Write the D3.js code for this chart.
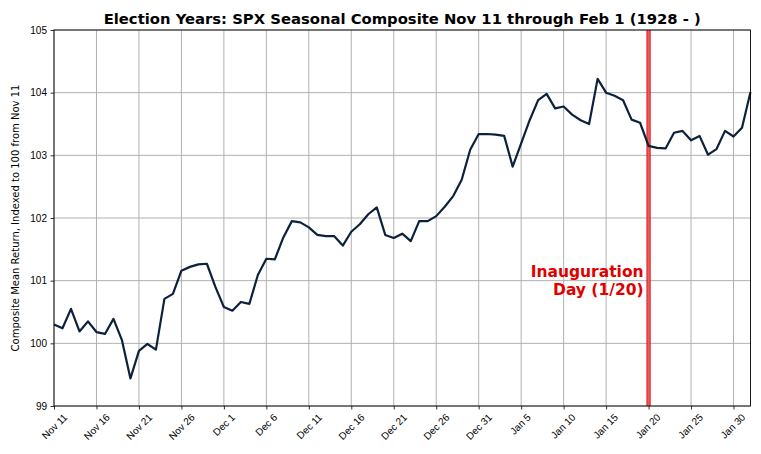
<!DOCTYPE html>
<html>
<head>
<meta charset="utf-8">
<script src="https://cdn.jsdelivr.net/npm/d3@7"></script>
<style>
  html, body { margin: 0; padding: 0; background: #fff; }
  svg { display: block; font-family: "DejaVu Sans", sans-serif; }
</style>
</head>
<body>
<svg id="chart" width="761" height="454"></svg>
<script>
// ---- data ----
const startDate = "2024-11-11";
const endDate = "2025-02-01";
const values = [
  100.30, 100.24, 100.55, 100.19, 100.35, 100.18, 100.15, 100.39, 100.05, 99.44,
  99.88, 99.99, 99.90, 100.71, 100.79, 101.16, 101.22, 101.26, 101.27, 100.90,
  100.58, 100.52, 100.66, 100.63, 101.09, 101.35, 101.34, 101.69, 101.95, 101.93,
  101.85, 101.73, 101.71, 101.71, 101.56, 101.78, 101.90, 102.06, 102.17, 101.73,
  101.68, 101.75, 101.63, 101.95, 101.95, 102.03, 102.18, 102.35, 102.61, 103.09,
  103.34, 103.34, 103.33, 103.31, 102.82, 103.19, 103.56, 103.88, 103.98, 103.75,
  103.78, 103.65, 103.56, 103.50, 104.22, 104.00, 103.95, 103.88, 103.57, 103.52,
  103.15, 103.12, 103.11, 103.36, 103.39, 103.24, 103.31, 103.01, 103.10, 103.39,
  103.30, 103.44, 104.01
];
const xTickLabels = ["Nov 11","Nov 16","Nov 21","Nov 26","Dec 1","Dec 6","Dec 11","Dec 16",
  "Dec 21","Dec 26","Dec 31","Jan 5","Jan 10","Jan 15","Jan 20","Jan 25","Jan 30"];
const yTicks = [99, 100, 101, 102, 103, 104, 105];
const eventDate = "2025-01-20";
const eventLabel = ["Inauguration", "Day (1/20)"];
const title = "Election Years: SPX Seasonal Composite Nov 11 through Feb 1 (1928 - )";
const yLabel = "Composite Mean Return, Indexed to 100 from Nov 11";

// ---- build ----
const parse = d3.timeParse("%Y-%m-%d");
const start = parse(startDate), end = parse(endDate);
const dates = d3.timeDay.range(start, d3.timeDay.offset(end, 1));
const series = values.map((v, i) => ({date: dates[i], value: v}));
const parseTick = s => {
  const yr = s.startsWith("Jan") ? 2025 : 2024;
  return d3.timeParse("%b %d %Y")(s + " " + yr);
};
const tickDates = xTickLabels.map(parseTick);

const W = 761, H = 454;
const margin = {left: 54, top: 30, right: 10.5, bottom: 48};
const svg = d3.select("#chart");

const x = d3.scaleTime().domain([start, end]).range([margin.left, W - margin.right]);
const y = d3.scaleLinear().domain([99, 105]).range([H - margin.bottom, margin.top]);

// grid
const grid = svg.append("g");
grid.selectAll(".vg").data(tickDates).join("line")
  .attr("x1", d => x(d)).attr("x2", d => x(d))
  .attr("y1", y(99)).attr("y2", y(105))
  .attr("stroke", "#b0b0b0").attr("stroke-width", 1);
grid.selectAll(".hg").data(yTicks).join("line")
  .attr("x1", margin.left).attr("x2", W - margin.right)
  .attr("y1", d => y(d)).attr("y2", d => y(d))
  .attr("stroke", "#b0b0b0").attr("stroke-width", 1);

// event line
const ex = x(parse(eventDate));
svg.append("line")
  .attr("x1", ex).attr("x2", ex)
  .attr("y1", y(105)).attr("y2", y(99))
  .attr("stroke", "#d91e1e").attr("stroke-width", 4.5).attr("stroke-opacity", 0.85);
svg.append("line")
  .attr("x1", ex).attr("x2", ex)
  .attr("y1", y(105)).attr("y2", y(99))
  .attr("stroke", "#f25a5a").attr("stroke-width", 1.5);

// data line
const line = d3.line().x(d => x(d.date)).y(d => y(d.value));
svg.append("path").datum(series)
  .attr("d", line)
  .attr("fill", "none")
  .attr("stroke", "#0d213d")
  .attr("stroke-width", 2.2)
  .attr("stroke-linejoin", "round");

// axes
const xAxis = d3.axisBottom(x).tickValues(tickDates)
  .tickFormat((d, i) => xTickLabels[i]).tickSizeOuter(0).tickSize(3.5).tickPadding(3.5);
const gx = svg.append("g").attr("transform", `translate(0,${y(99)})`).call(xAxis);
gx.select(".domain").remove();
gx.selectAll("line").attr("stroke", "#000").attr("stroke-width", 0.8);

// rotated tick labels: text end placed so that the rotated box is centred on the tick
const ctx = document.createElement("canvas").getContext("2d");
ctx.font = '10px "DejaVu Sans"';
gx.selectAll(".tick text")
  .attr("font-size", 10)
  .attr("fill", "#000")
  .attr("text-anchor", "end")
  .attr("y", 0)
  .attr("dy", "0.35em")
  .attr("transform", (d, i) => {
    const L = ctx.measureText(xTickLabels[i]).width;
    const dx = (L * Math.SQRT1_2) / 2 - 1.5;
    const dy = 7 + 2.5;
    return "translate(" + dx + "," + dy + ") rotate(-45)";
  });

const yAxis = d3.axisLeft(y).tickValues(yTicks).tickFormat(d3.format("d"))
  .tickSizeOuter(0).tickSize(3.5).tickPadding(3.5);
const gy = svg.append("g").attr("transform", `translate(${margin.left},0)`).call(yAxis);
gy.select(".domain").remove();
gy.selectAll("line").attr("stroke", "#000").attr("stroke-width", 0.8);
gy.selectAll("text").attr("font-size", 10).attr("fill", "#000");

// frame
svg.append("rect")
  .attr("x", margin.left).attr("y", margin.top)
  .attr("width", W - margin.right - margin.left)
  .attr("height", H - margin.bottom - margin.top)
  .attr("fill", "none").attr("stroke", "#000").attr("stroke-width", 0.9);

// event label
const et = svg.append("text")
  .attr("text-anchor", "end")
  .attr("fill", "#e00000")
  .attr("font-weight", "bold")
  .attr("font-size", 15.5);
et.selectAll("tspan").data(eventLabel).join("tspan")
  .attr("x", ex - 5)
  .attr("y", (d, i) => 277 + i * 18)
  .text(d => d);

// title
svg.append("text")
  .attr("x", (margin.left + W - margin.right) / 2)
  .attr("y", 24)
  .attr("text-anchor", "middle")
  .attr("font-weight", "bold")
  .attr("font-size", 14.8)
  .attr("fill", "#000")
  .text(title);

// y label
svg.append("text")
  .attr("transform", `translate(19,${(margin.top + H - margin.bottom) / 2}) rotate(-90)`)
  .attr("text-anchor", "middle")
  .attr("font-size", 10)
  .attr("fill", "#000")
  .text(yLabel);
</script>
</body>
</html>
